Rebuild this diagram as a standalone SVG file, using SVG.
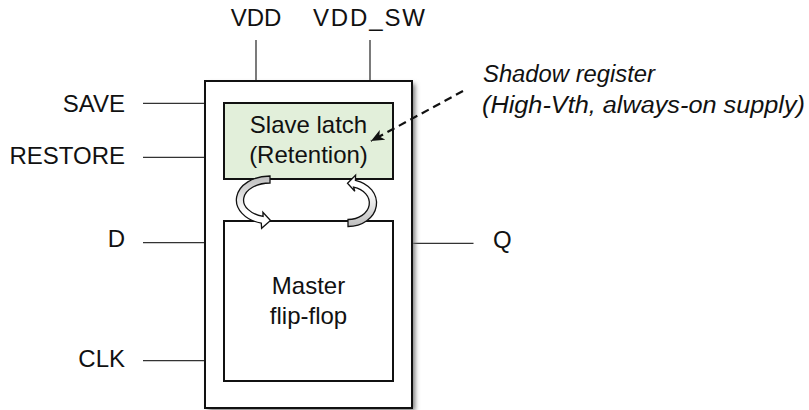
<svg xmlns="http://www.w3.org/2000/svg" width="809" height="410" viewBox="0 0 809 410">
  <defs>
    <style>
      .t { font-family: "Liberation Sans", Arial, sans-serif; font-size: 24px; fill: #111111; }
      .ti { font-family: "Liberation Sans", Arial, sans-serif; font-size: 23px; font-style: italic; fill: #111111; }
      .box { fill: #ffffff; stroke: #111111; stroke-width: 2; }
      .pin { fill: none; stroke: #333333; stroke-width: 1.3; }
      .carrow { stroke: #111111; stroke-width: 1.3; stroke-linejoin: miter; }
    </style>
    <filter id="shadow" x="-10%" y="-10%" width="130%" height="130%">
      <feGaussianBlur stdDeviation="2.5"/>
    </filter>
    <linearGradient id="gL" x1="0" y1="0" x2="0" y2="1">
      <stop offset="0" stop-color="#bdbdbd"/>
      <stop offset="0.7" stop-color="#ffffff"/>
    </linearGradient>
    <linearGradient id="gR" x1="0" y1="1" x2="0" y2="0">
      <stop offset="0" stop-color="#bdbdbd"/>
      <stop offset="0.7" stop-color="#ffffff"/>
    </linearGradient>
    <marker id="ah" viewBox="0 0 13 11" refX="13" refY="5.5" markerWidth="13" markerHeight="11" markerUnits="userSpaceOnUse" orient="auto">
      <path d="M0,0 L13,5.5 L0,11 L3.5,5.5 Z" fill="#111111"/>
    </marker>
  </defs>

  <rect width="809" height="410" fill="#ffffff"/>

  <g id="connectors">
    <line class="pin" x1="256" y1="40" x2="256" y2="81"/>
    <line class="pin" x1="370" y1="40" x2="370" y2="81"/>
    <line class="pin" x1="143" y1="103.3" x2="205" y2="103.3"/>
    <line class="pin" x1="143" y1="157.3" x2="205" y2="157.3"/>
    <line class="pin" x1="143" y1="242.7" x2="205" y2="242.7"/>
    <line class="pin" x1="143" y1="360.7" x2="205" y2="360.7"/>
    <line class="pin" x1="412" y1="243.3" x2="473.5" y2="243.3"/>
  </g>

  <g id="retention-ff">
    <rect x="208" y="84" width="207" height="327" fill="#777777" filter="url(#shadow)"/>
    <rect class="box" x="205" y="81" width="207" height="327"/>
  </g>

  <g id="slave-latch">
    <rect x="224" y="103" width="169" height="76" fill="#e2efda" stroke="#111111" stroke-width="2"/>
    <text class="t" x="308.5" y="132.7" text-anchor="middle">Slave latch</text>
    <text class="t" x="308.5" y="163.3" text-anchor="middle">(Retention)</text>
  </g>

  <g id="master-ff">
    <rect class="box" x="224" y="221" width="169" height="160"/>
    <text class="t" x="308.5" y="293.5" text-anchor="middle">Master</text>
    <text class="t" x="308.5" y="323.5" text-anchor="middle">flip-flop</text>
  </g>

  <g id="transfer-arrows">
    <path class="carrow" fill="url(#gL)" d="M 270 176 A 33.5 24 0 0 0 261.3 223.2 L 261.6 228.3 L 270.5 220.5 L 262.9 212.3 L 263.1 216.4 A 26.5 17 0 0 1 270 183 Z"/>
    <path class="carrow" fill="url(#gR)" d="M 348 226.5 A 28.5 23.5 0 0 0 355.4 180.3 L 355.6 175.2 L 347.5 183.3 L 354.8 191.3 L 353.6 187.1 A 21.5 16.5 0 0 1 348 219.5 Z"/>
  </g>

  <g id="pin-labels">
    <text class="t" x="256" y="26" text-anchor="middle">VDD</text>
    <text class="t" x="369" y="26" text-anchor="middle" textLength="112" lengthAdjust="spacing">VDD_SW</text>
    <text class="t" x="125" y="111.5" text-anchor="end">SAVE</text>
    <text class="t" x="125" y="163.5" text-anchor="end">RESTORE</text>
    <text class="t" x="125" y="246.7" text-anchor="end">D</text>
    <text class="t" x="125" y="367" text-anchor="end">CLK</text>
    <text class="t" x="493" y="248.3">Q</text>
  </g>

  <g id="annotation">
    <line x1="463" y1="91" x2="371" y2="141" stroke="#111111" stroke-width="2.2" stroke-dasharray="8 5" marker-end="url(#ah)"/>
    <text class="ti" x="483" y="82" textLength="172" lengthAdjust="spacingAndGlyphs">Shadow register</text>
    <text class="ti" x="482" y="113" textLength="323" lengthAdjust="spacingAndGlyphs">(High-Vth, always-on supply)</text>
  </g>
</svg>
